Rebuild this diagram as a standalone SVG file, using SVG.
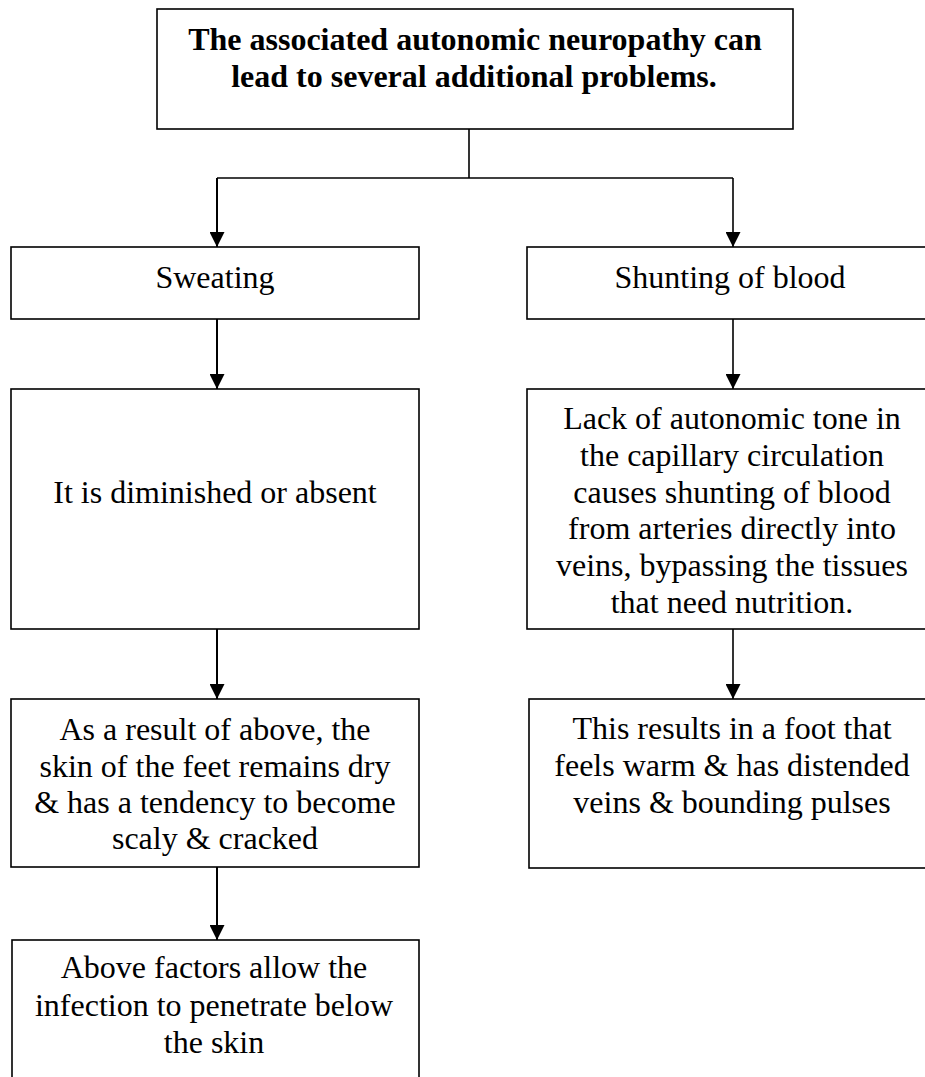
<svg xmlns="http://www.w3.org/2000/svg" width="925" height="1077" viewBox="0 0 925 1077">
<style>
.box{fill:#fff;stroke:#000;stroke-width:1.6}
.t{font-family:'Liberation Serif','Times New Roman',serif;font-size:32px;fill:#000;text-anchor:middle}
.b{font-weight:bold}
.c{fill:none;stroke:#000;stroke-width:1.6}
.cl{fill:none;stroke:#000;stroke-width:2}
</style>
<defs>
<marker id="ah" viewBox="0 0 15 15" refX="15" refY="7.5" markerWidth="15" markerHeight="15" markerUnits="userSpaceOnUse" orient="auto">
<path d="M0,0 L15,7.5 L0,15 Z" fill="#000"/>
</marker>
</defs>
<rect width="925" height="1077" fill="#fff"/>
<g id="connectors">
<polyline class="c" points="469,129 469,178"/>
<polyline class="c" points="217,178 733,178"/>
<line class="cl" x1="217" y1="178" x2="217" y2="247" marker-end="url(#ah)"/>
<line class="c" x1="733" y1="178" x2="733" y2="247" marker-end="url(#ah)"/>
<line class="cl" x1="217" y1="319" x2="217" y2="389" marker-end="url(#ah)"/>
<line class="c" x1="733" y1="319" x2="733" y2="389" marker-end="url(#ah)"/>
<line class="cl" x1="217" y1="629" x2="217" y2="699" marker-end="url(#ah)"/>
<line class="c" x1="733" y1="629" x2="733" y2="699" marker-end="url(#ah)"/>
<line class="cl" x1="217" y1="867" x2="217" y2="940" marker-end="url(#ah)"/>
</g>
<g id="title">
<rect class="box" x="157" y="9" width="636" height="120"/>
<text class="t b" x="475" y="50">The associated autonomic neuropathy can</text>
<text class="t b" x="474" y="87">lead to several additional problems.</text>
</g>
<g id="sweating">
<rect class="box" x="11" y="247" width="408" height="72"/>
<text class="t" x="215" y="288">Sweating</text>
</g>
<g id="shunting">
<rect class="box" x="527" y="247" width="420" height="72"/>
<text class="t" x="730" y="288">Shunting of blood</text>
</g>
<g id="diminished">
<rect class="box" x="11" y="389" width="408" height="240"/>
<text class="t" x="215" y="503">It is diminished or absent</text>
</g>
<g id="lack">
<rect class="box" x="527" y="389" width="420" height="240"/>
<text class="t" x="732" y="429">Lack of autonomic tone in</text>
<text class="t" x="732" y="466">the capillary circulation</text>
<text class="t" x="732" y="503">causes shunting of blood</text>
<text class="t" x="732" y="539">from arteries directly into</text>
<text class="t" x="732" y="576">veins, bypassing the tissues</text>
<text class="t" x="732" y="613">that need nutrition.</text>
</g>
<g id="dry">
<rect class="box" x="11" y="699" width="408" height="168"/>
<text class="t" x="215" y="740">As a result of above, the</text>
<text class="t" x="215" y="777">skin of the feet remains dry</text>
<text class="t" x="215" y="813">&amp; has a tendency to become</text>
<text class="t" x="215" y="849">scaly &amp; cracked</text>
</g>
<g id="warm">
<rect class="box" x="529" y="699" width="418" height="169"/>
<text class="t" x="732" y="739">This results in a foot that</text>
<text class="t" x="732" y="776">feels warm &amp; has distended</text>
<text class="t" x="732" y="813">veins &amp; bounding pulses</text>
</g>
<g id="infection">
<rect class="box" x="12" y="940" width="407" height="160"/>
<text class="t" x="214" y="978">Above factors allow the</text>
<text class="t" x="214" y="1016">infection to penetrate below</text>
<text class="t" x="214" y="1053">the skin</text>
</g>
</svg>
